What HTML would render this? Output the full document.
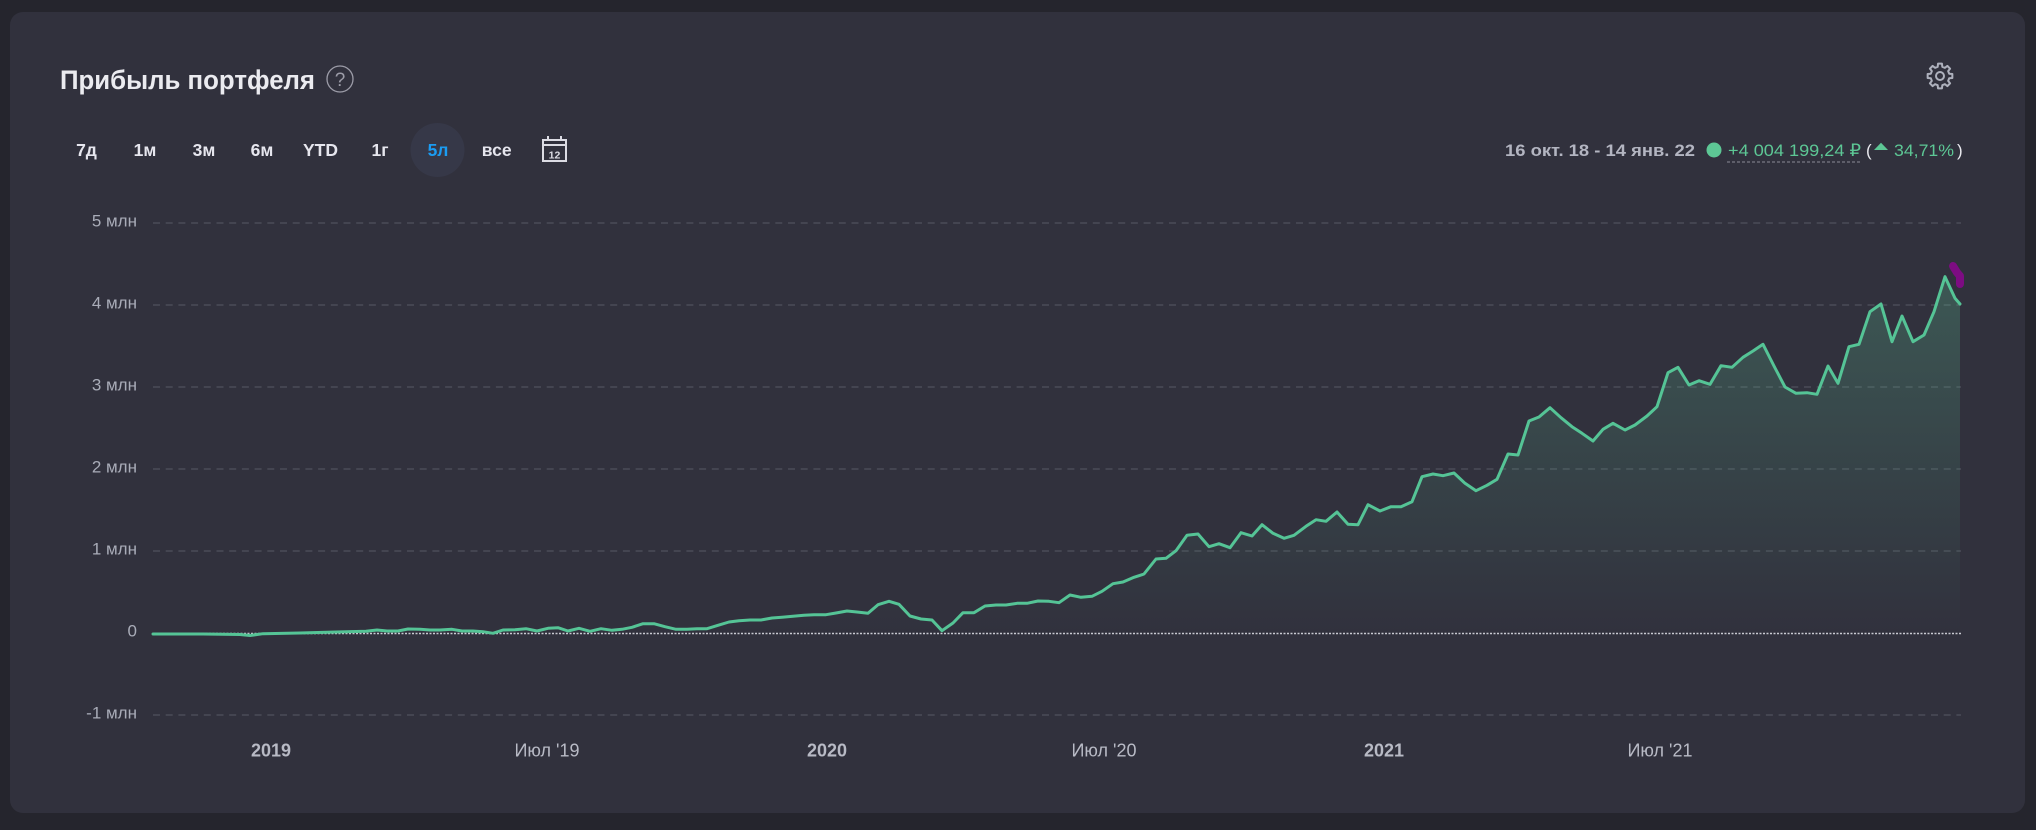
<!DOCTYPE html>
<html>
<head>
<meta charset="utf-8">
<style>
html,body{margin:0;padding:0;background:#25252d;}
svg{display:block;}
text{font-family:"Liberation Sans","DejaVu Sans",sans-serif;}
</style>
</head>
<body>
<svg width="2036" height="830" viewBox="0 0 2036 830" xmlns="http://www.w3.org/2000/svg">
<defs>
<linearGradient id="fg" x1="0" y1="270" x2="0" y2="633" gradientUnits="userSpaceOnUse">
<stop offset="0" stop-color="#5ec998" stop-opacity="0.26"/>
<stop offset="1" stop-color="#5ec998" stop-opacity="0.0"/>
</linearGradient>
</defs>
<rect x="0" y="0" width="2036" height="830" fill="#25252d"/>
<rect x="10" y="12" width="2015" height="801" rx="13" fill="#31313d"/>

<!-- Title -->
<text x="60" y="89" font-size="27" font-weight="bold" fill="#ebebf0" textLength="255" lengthAdjust="spacingAndGlyphs">Прибыль портфеля</text>
<circle cx="340" cy="79" r="13" fill="none" stroke="#9c9ca8" stroke-width="1.3"/>
<text x="340" y="86" font-size="19" fill="#9c9ca8" text-anchor="middle">?</text>

<!-- Gear -->
<g transform="translate(1940,76)" fill="none" stroke="#aeb1bd" stroke-width="2" stroke-linejoin="round">
<polygon points="9.218,-2.298 12.346,-1.955 12.346,1.955 9.218,2.298 8.143,4.893 10.113,7.348 7.348,10.113 4.893,8.143 2.298,9.218 1.955,12.346 -1.955,12.346 -2.298,9.218 -4.893,8.143 -7.348,10.113 -10.113,7.348 -8.143,4.893 -9.218,2.298 -12.346,1.955 -12.346,-1.955 -9.218,-2.298 -8.143,-4.893 -10.113,-7.348 -7.348,-10.113 -4.893,-8.143 -2.298,-9.218 -1.955,-12.346 1.955,-12.346 2.298,-9.218 4.893,-8.143 7.348,-10.113 10.113,-7.348 8.143,-4.893"/>
<circle cx="0" cy="0" r="4"/>
</g>

<!-- Period buttons -->
<circle cx="437.5" cy="150" r="27" fill="#363848"/>
<g font-size="17.5" font-weight="bold" fill="#e6e6ee" text-anchor="middle">
<text x="86.5" y="156">7д</text>
<text x="145" y="156">1м</text>
<text x="204" y="156">3м</text>
<text x="262" y="156">6м</text>
<text x="320.5" y="156">YTD</text>
<text x="380" y="156">1г</text>
<text x="438" y="156" fill="#1b9cf2">5л</text>
<text x="496.7" y="156">все</text>
</g>
<!-- Calendar icon -->
<g stroke="#dcdce4" fill="none" stroke-width="2">
<rect x="543" y="140" width="23" height="21"/>
<line x1="543" y1="145" x2="566" y2="145"/>
<line x1="548" y1="136" x2="548" y2="141"/>
<line x1="561" y1="136" x2="561" y2="141"/>
</g>
<text x="554.5" y="158.5" font-size="10.5" font-weight="bold" fill="#dcdce4" text-anchor="middle">12</text>

<!-- Right summary -->
<text x="1505" y="156" font-size="17" font-weight="bold" fill="#b3b5c1" textLength="190" lengthAdjust="spacingAndGlyphs">16 окт. 18 - 14 янв. 22</text>
<circle cx="1714" cy="150" r="7.5" fill="#5dc795"/>
<text x="1728" y="156" font-size="17" fill="#5dc795" textLength="133" lengthAdjust="spacingAndGlyphs">+4 004 199,24 ₽</text>
<line x1="1727" y1="162" x2="1861" y2="162" stroke="#8a8c98" stroke-width="1" stroke-dasharray="3 2"/>
<text x="1866" y="156" font-size="17" fill="#e8e8ee">(</text>
<polygon points="1874,150 1888,150 1881,142.7" fill="#5dc795"/>
<text x="1894" y="156" font-size="17" fill="#5dc795" textLength="60" lengthAdjust="spacingAndGlyphs">34,71%</text>
<text x="1957" y="156" font-size="17" fill="#e8e8ee">)</text>

<!-- Grid lines -->
<g stroke="#4b4c58" stroke-width="1.6" stroke-dasharray="7 5.7">
<line x1="153" y1="223" x2="1961" y2="223"/>
<line x1="153" y1="305" x2="1961" y2="305"/>
<line x1="153" y1="387" x2="1961" y2="387"/>
<line x1="153" y1="469" x2="1961" y2="469"/>
<line x1="153" y1="551" x2="1961" y2="551"/>
<line x1="153" y1="715" x2="1961" y2="715"/>
</g>

<!-- Y labels -->
<g font-size="17" fill="#a9acb8" text-anchor="end">
<text x="137" y="226.3">5 млн</text>
<text x="137" y="308.3">4 млн</text>
<text x="137" y="390.3">3 млн</text>
<text x="137" y="472.3">2 млн</text>
<text x="137" y="554.3">1 млн</text>
<text x="137" y="636.3">0</text>
<text x="137" y="718.3">-1 млн</text>
</g>

<!-- X labels -->
<g font-size="18" fill="#b8bac5" text-anchor="middle">
<text x="271" y="756.7" font-weight="bold">2019</text>
<text x="547" y="756.7">Июл '19</text>
<text x="827" y="756.7" font-weight="bold">2020</text>
<text x="1104" y="756.7">Июл '20</text>
<text x="1384" y="756.7" font-weight="bold">2021</text>
<text x="1660" y="756.7">Июл '21</text>
</g>

<!-- Area fill -->
<polygon fill="url(#fg)" points="153,633 153,634 203,634 240,634.5 250,635.5 263,633.7 300,633 336,632 366,631.3 377,630 387,631 398,631 408,629 420,629.3 430,630 440,630 452,629.3 462,631 473,631 483,631.7 493,633.3 503,630 515,629.7 526,628.7 537,631 548,628.3 558,627.7 568,631 579,628.3 590,631.3 601,628.7 612,630.3 622,629.3 632,627.3 643,623.7 654,623.7 665,626.7 676,629.3 687,629.3 697,628.7 707,628.7 718,625.3 729,622 739,620.7 750,620 761,620 772,618 782,617.3 793,616.3 804,615.3 814,614.7 826,614.7 836,613 847,611 857,612 868,613.3 878,604.7 889,601.3 899,604.3 910,616 921,619 932,620 942,630.7 953,623 963,612.7 974,612.7 985,606 996,605 1006,605 1017,603.3 1027,603.3 1038,601 1049,601.3 1059,602.7 1070,595 1081,597.3 1092,596.3 1102,591.3 1113,583.7 1123,582 1134,577.3 1144,574 1156,559 1166,558.3 1176,550.7 1187,535.3 1198,534 1209,546.7 1219,543.7 1230,547.7 1241,532.7 1252,536 1262,524.7 1273,533.3 1284,538.3 1294,535.3 1306,526.3 1316,519.7 1326,521.3 1337,512 1348,524.3 1358,524.7 1368,504.7 1380,511 1391,506.7 1401,506.7 1412,501.7 1422,476.7 1433,474 1443,475.7 1454,473 1465,483.3 1476,490.7 1487,485.3 1497,479.3 1508,454 1518,455 1529,421 1539,417 1550,407.7 1561,417.7 1572,426.7 1582,433.3 1593,441 1603,429.3 1613,423.3 1625,430 1635,425 1647,416 1657,406.7 1668,372.7 1678,367.3 1689,385 1699,380.7 1710,384.3 1721,365.7 1732,367.3 1743,357.3 1753,351 1763,344.3 1774,366 1785,387 1796,393.3 1807,392.7 1817,394.3 1828,366 1838,383.3 1849,346.7 1859,344.3 1870,311.7 1881,304 1892,341.7 1902,316 1913,341.7 1924,335 1934,311.7 1945,276.7 1955,298.3 1960,304 1960,633"/>

<!-- Zero line -->
<line x1="153" y1="633.5" x2="1961" y2="633.5" stroke="#c9cad2" stroke-width="1.5" stroke-dasharray="2 1.5"/>

<!-- Series line -->
<polyline fill="none" stroke="#55c496" stroke-width="3" stroke-linejoin="round" stroke-linecap="round" points="153,634 203,634 240,634.5 250,635.5 263,633.7 300,633 336,632 366,631.3 377,630 387,631 398,631 408,629 420,629.3 430,630 440,630 452,629.3 462,631 473,631 483,631.7 493,633.3 503,630 515,629.7 526,628.7 537,631 548,628.3 558,627.7 568,631 579,628.3 590,631.3 601,628.7 612,630.3 622,629.3 632,627.3 643,623.7 654,623.7 665,626.7 676,629.3 687,629.3 697,628.7 707,628.7 718,625.3 729,622 739,620.7 750,620 761,620 772,618 782,617.3 793,616.3 804,615.3 814,614.7 826,614.7 836,613 847,611 857,612 868,613.3 878,604.7 889,601.3 899,604.3 910,616 921,619 932,620 942,630.7 953,623 963,612.7 974,612.7 985,606 996,605 1006,605 1017,603.3 1027,603.3 1038,601 1049,601.3 1059,602.7 1070,595 1081,597.3 1092,596.3 1102,591.3 1113,583.7 1123,582 1134,577.3 1144,574 1156,559 1166,558.3 1176,550.7 1187,535.3 1198,534 1209,546.7 1219,543.7 1230,547.7 1241,532.7 1252,536 1262,524.7 1273,533.3 1284,538.3 1294,535.3 1306,526.3 1316,519.7 1326,521.3 1337,512 1348,524.3 1358,524.7 1368,504.7 1380,511 1391,506.7 1401,506.7 1412,501.7 1422,476.7 1433,474 1443,475.7 1454,473 1465,483.3 1476,490.7 1487,485.3 1497,479.3 1508,454 1518,455 1529,421 1539,417 1550,407.7 1561,417.7 1572,426.7 1582,433.3 1593,441 1603,429.3 1613,423.3 1625,430 1635,425 1647,416 1657,406.7 1668,372.7 1678,367.3 1689,385 1699,380.7 1710,384.3 1721,365.7 1732,367.3 1743,357.3 1753,351 1763,344.3 1774,366 1785,387 1796,393.3 1807,392.7 1817,394.3 1828,366 1838,383.3 1849,346.7 1859,344.3 1870,311.7 1881,304 1892,341.7 1902,316 1913,341.7 1924,335 1934,311.7 1945,276.7 1955,298.3 1960,304"/>

<!-- Purple marker -->
<polyline fill="none" stroke="#7d0c82" stroke-width="8" stroke-linecap="round" stroke-linejoin="round" points="1953,266 1957,272.5 1960,276 1960,284"/>
</svg>
</body>
</html>
